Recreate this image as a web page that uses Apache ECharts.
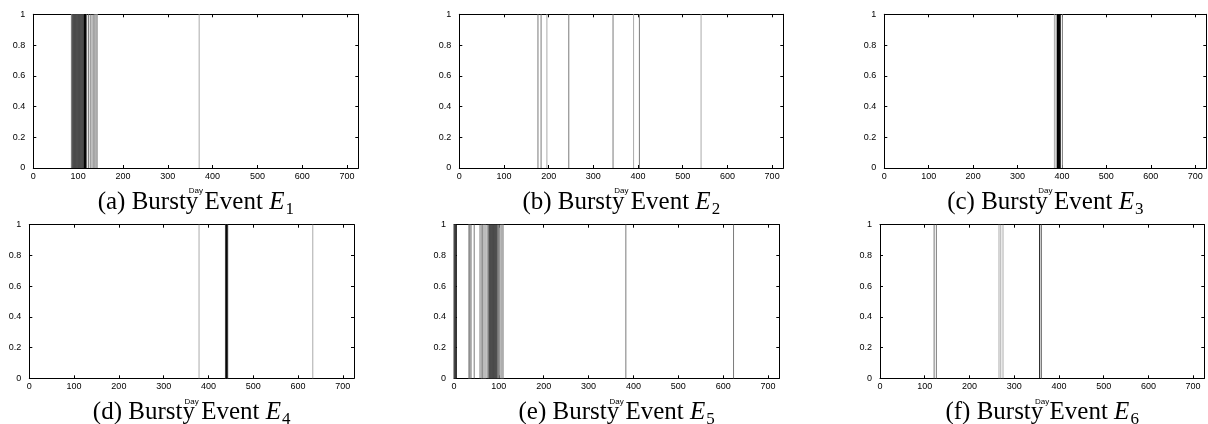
<!DOCTYPE html>
<html>
<head>
<meta charset="utf-8">
<script src="https://cdn.jsdelivr.net/npm/echarts@6/dist/echarts.min.js"></script>
<style>html,body{margin:0;padding:0;background:#fff}#c{width:1208px;height:424px}</style>
</head>
<body>
<div id="c"></div>
<script>
// ---- data (days on which each bursty event occurs, grouped by line shade) ----
const xTickLabels = ['0','100','200','300','400','500','600','700'];
const yTickLabels = ['0','0.2','0.4','0.6','0.8','1'];
const captionLetters = ['a','b','c','d','e','f'];
const eventIds = ['1','2','3','4','5','6'];

const e1Black = [114, 115, 116, 117];
const e1Dark  = [88, 89, 90, 91, 92, 93, 94, 95, 96, 97, 98, 99, 100, 101, 102, 103, 104, 105, 106, 107, 108, 109, 110, 111, 112, 113];
const e1Mid   = [85, 86, 87, 119, 123, 127, 131, 135];
const e1Light = [137, 139, 141, 143, 370];

const e2Black = [];
const e2Dark  = [];
const e2Mid   = [176, 183, 245, 344, 403];
const e2Light = [196, 390, 541];

const e3Black = [390, 391, 392, 393, 394, 395, 396];
const e3Dark  = [];
const e3Mid   = [387, 401];
const e3Light = [383];

const e4Black = [440, 441];
const e4Dark  = [438, 439, 442, 443];
const e4Mid   = [];
const e4Light = [379, 633];

const e5Black = [5];
const e5Dark  = [0, 1, 2, 3, 4, 79, 80, 81, 82, 83, 84, 85, 86, 87, 88, 89, 90, 91, 92, 93, 94, 95];
const e5Mid   = [34, 38, 45, 58, 63, 74, 77, 97, 99, 101, 383, 623];
const e5Light = [33, 36, 61, 65, 67, 69, 71, 104, 106, 108, 110];

const e6Black = [357];
const e6Dark  = [];
const e6Mid   = [121, 126, 361];
const e6Light = [266, 270, 275];

const panels = [
  [e1Black, e1Dark, e1Mid, e1Light],
  [e2Black, e2Dark, e2Mid, e2Light],
  [e3Black, e3Dark, e3Mid, e3Light],
  [e4Black, e4Dark, e4Mid, e4Light],
  [e5Black, e5Dark, e5Mid, e5Light],
  [e6Black, e6Dark, e6Mid, e6Light]
];

// ---- layout & style ----
const shades = ['#000000', '#4a4a4a', '#7a7a7a', '#ababab'];
const gridBoxes = [
  {left: 33.3, top: 14.3, width: 325, height: 153.7},
  {left: 459.3, top: 14.3, width: 324, height: 153.7},
  {left: 884.3, top: 14.3, width: 322, height: 153.7},
  {left: 29.3, top: 224.7, width: 324.7, height: 153.6},
  {left: 454, top: 224.7, width: 325.3, height: 153.6},
  {left: 880, top: 224.7, width: 324.3, height: 153.6}
];
const captionBaselines = [211.7, 211.7, 211.7, 421.7, 421.7, 421.7];
const XMAX = 725;
const labelFont = {fontFamily: 'Liberation Sans, Arial, sans-serif', fontSize: 9, color: '#000'};

const grid = [], xAxis = [], yAxis = [], series = [], graphic = [];

gridBoxes.forEach((g, i) => {
  grid.push({left: g.left, top: g.top, width: g.width, height: g.height, containLabel: false, show: false});
  const axLine = {show: true, onZero: false, lineStyle: {color: '#000', width: 1}};
  const tick = {show: true, inside: true, length: 3, lineStyle: {color: '#000', width: 1}};
  // bottom x axis (labels)
  xAxis.push({
    type: 'value', gridIndex: i, min: 0, max: XMAX, interval: 100, position: 'bottom',
    axisLine: axLine, axisTick: tick, splitLine: {show: false},
    axisLabel: Object.assign({margin: 4, showMaxLabel: false, formatter: v => xTickLabels[Math.round(v / 100)] || ''}, labelFont),
    name: 'Day', nameLocation: 'middle', nameGap: 19,
    nameTextStyle: {fontFamily: 'Liberation Sans, Arial, sans-serif', fontSize: 8, color: '#000'}
  });
  // top mirror axis
  xAxis.push({
    type: 'value', gridIndex: i, min: 0, max: XMAX, interval: 100, position: 'top',
    axisLine: axLine, axisTick: tick, splitLine: {show: false}, axisLabel: {show: false}
  });
  // left y axis
  yAxis.push({
    type: 'value', gridIndex: i, min: 0, max: 1, interval: 0.2, position: 'left',
    axisLine: axLine, axisTick: tick, splitLine: {show: false},
    axisLabel: Object.assign({margin: 8, formatter: v => yTickLabels[Math.round(v * 5)]}, labelFont)
  });
  // right mirror axis
  yAxis.push({
    type: 'value', gridIndex: i, min: 0, max: 1, interval: 0.2, position: 'right',
    axisLine: axLine, axisTick: tick, splitLine: {show: false}, axisLabel: {show: false}
  });

  // draw shades light -> dark so darker lines sit on top
  for (let s = 3; s >= 0; s--) {
    const days = panels[i][s];
    if (!days.length) continue;
    const color = shades[s];
    series.push({
      type: 'custom', xAxisIndex: 2 * i, yAxisIndex: 2 * i,
      data: days.map(d => [d, 1]),
      encode: {x: 0, y: 1},
      silent: true, animation: false,
      renderItem: (params, api) => {
        const p0 = api.coord([api.value(0), 0]);
        const p1 = api.coord([api.value(0), api.value(1)]);
        return {type: 'line', shape: {x1: p0[0], y1: p0[1], x2: p1[0], y2: p1[1]},
                style: {stroke: color, lineWidth: 1}};
      }
    });
  }

  // caption
  graphic.push({
    type: 'text', z: 10,
    x: g.left + g.width / 2, y: captionBaselines[i] - 9,
    style: {
      text: '{n|(' + captionLetters[i] + ') Bursty Event }{e|E}{s|' + eventIds[i] + '}',
      align: 'center', verticalAlign: 'middle',
      rich: {
        n: {fontFamily: 'Liberation Serif, Times New Roman, serif', fontSize: 25, fill: '#000', color: '#000'},
        e: {fontFamily: 'Liberation Serif, Times New Roman, serif', fontSize: 25, fontStyle: 'italic', fill: '#000', color: '#000'},
        s: {fontFamily: 'Liberation Serif, Times New Roman, serif', fontSize: 17, fill: '#000', color: '#000', padding: [13, 0, 0, 1]}
      }
    }
  });
});

const chart = echarts.init(document.getElementById('c'), null, {renderer: 'canvas'});
chart.setOption({animation: false, backgroundColor: '#fff', grid, xAxis, yAxis, series, graphic});
</script>
</body>
</html>
